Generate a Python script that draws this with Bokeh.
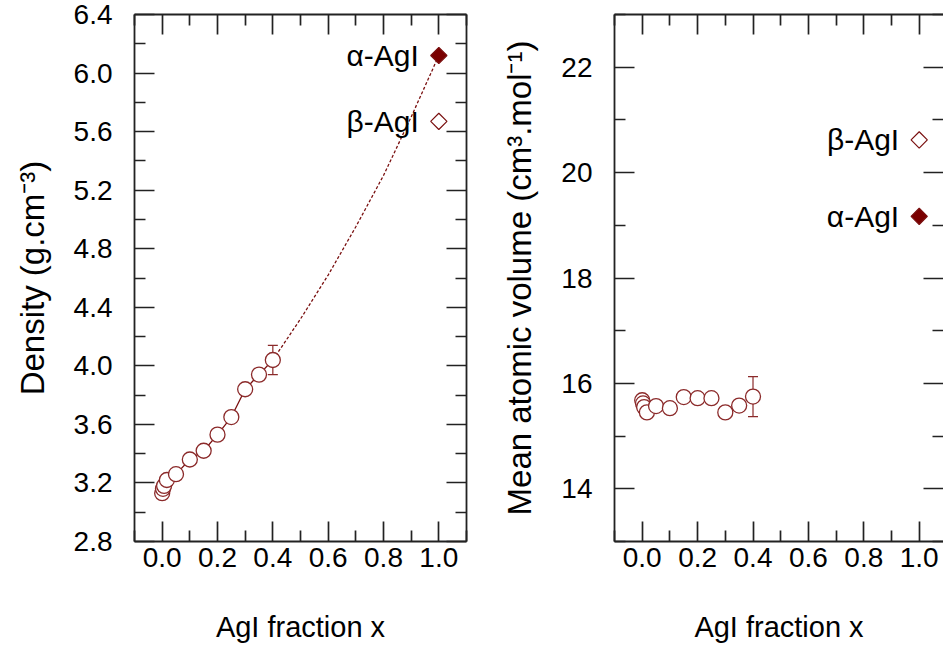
from bokeh.plotting import figure
from bokeh.layouts import row
from bokeh.models import (Range1d, LinearAxis, FixedTicker, Whisker, ColumnDataSource, TeeHead,
                          NumeralTickFormatter)
from bokeh.core.properties import value
from bokeh.embed import file_html
from bokeh.resources import INLINE

# ---------------- data ----------------
x_frac = [0.0, 0.003, 0.007, 0.017, 0.05, 0.10, 0.15, 0.20, 0.25, 0.30, 0.35, 0.40]
density = [3.13, 3.16, 3.18, 3.22, 3.26, 3.36, 3.42, 3.53, 3.65, 3.84, 3.94, 4.04]
volume = [15.68, 15.62, 15.55, 15.45, 15.57, 15.53, 15.74, 15.72, 15.72, 15.45, 15.58, 15.75]

err_x = [0.40]
density_err = [0.10]
volume_err = [0.38]

trend_x = [0.40, 0.50, 0.60, 0.70, 0.80, 0.90, 1.00]
trend_density = [4.04, 4.32, 4.62, 4.95, 5.30, 5.70, 6.12]

phase_names = ["α-AgI", "β-AgI"]
phase_x = [1.0, 1.0]
phase_density = [6.12, 5.67]
phase_volume = [19.17, 20.62]
phase_fill = ["#7a0000", "white"]

x_ticks = [0.0, 0.2, 0.4, 0.6, 0.8, 1.0]
x_minor = [-0.1, 0.1, 0.3, 0.5, 0.7, 0.9, 1.1]
density_ticks = [2.8, 3.2, 3.6, 4.0, 4.4, 4.8, 5.2, 5.6, 6.0, 6.4]
density_minor = [3.0, 3.4, 3.8, 4.2, 4.6, 5.0, 5.4, 5.8, 6.2]
volume_ticks = [14, 16, 18, 20, 22]
volume_minor = [13, 15, 17, 19, 21, 23]

x_title = "AgI fraction x"
density_title = "Density (g.cm⁻³)"
volume_title = "Mean atomic volume (cm³.mol⁻¹)"

FONT = "Liberation Sans"
DARK = "#7a1010"
EDGE = "#8b2a2a"
TICK_FS = "28px"
XLABEL_FS = "29px"
YLABEL_FS = "33px"
ANN_FS = "30px"


def style_axis(ax, ticks, minor, show_labels=True, fmt="0.0", standoff=8):
    ax.ticker = FixedTicker(ticks=ticks, minor_ticks=minor)
    ax.formatter = NumeralTickFormatter(format=fmt)
    ax.major_tick_in = 20
    ax.major_tick_out = 0
    ax.minor_tick_in = 11
    ax.minor_tick_out = 0
    ax.major_tick_line_width = 1.7
    ax.minor_tick_line_width = 1.7
    ax.major_tick_line_color = "#222222"
    ax.minor_tick_line_color = "#222222"
    ax.axis_line_width = 1.8
    ax.axis_line_color = "#222222"
    ax.major_label_text_font = FONT
    ax.major_label_text_color = "black"
    ax.major_label_standoff = standoff
    ax.axis_label_text_font = FONT
    ax.axis_label_text_font_style = "normal"
    ax.axis_label_text_color = "black"
    if show_labels:
        ax.major_label_text_font_size = TICK_FS
    else:
        ax.major_label_text_font_size = "0px"
        ax.major_label_text_color = None
        ax.major_label_standoff = 0


def make_fig(width, x_end, y_rng, yt, ym, yfmt, ytitle, right_line=True, min_right=14):
    p = figure(width=width, height=651, x_range=Range1d(-0.1, x_end), y_range=Range1d(*y_rng),
               output_backend="svg", toolbar_location=None,
               min_border_left=134, min_border_right=min_right, min_border_top=14, min_border_bottom=110)
    p.grid.visible = False
    p.outline_line_color = None
    p.background_fill_color = "white"
    p.border_fill_color = "white"
    style_axis(p.xaxis[0], x_ticks, x_minor, True, "0.0", 6)
    style_axis(p.yaxis[0], yt, ym, True, yfmt, 22)
    p.xaxis[0].axis_label = x_title
    p.xaxis[0].axis_label_text_font_size = XLABEL_FS
    p.xaxis[0].axis_label_standoff = 41
    p.yaxis[0].axis_label = ytitle
    p.yaxis[0].axis_label_text_font_size = YLABEL_FS
    p.yaxis[0].axis_label_standoff = 20
    top = LinearAxis()
    style_axis(top, x_ticks, x_minor, False)
    p.add_layout(top, "above")
    rgt = LinearAxis()
    style_axis(rgt, yt, ym, False)
    if not right_line:
        rgt.axis_line_color = None
    p.add_layout(rgt, "right")
    return p


def add_markers(p, yvals, yerr, phase_y):
    src = ColumnDataSource(dict(x=err_x, lo=[yvals[-1] - e for e in yerr],
                                hi=[yvals[-1] + e for e in yerr]))
    p.add_layout(Whisker(source=src, base="x", lower="lo", upper="hi", dimension="height",
                         line_color=EDGE, line_width=1.2,
                         upper_head=TeeHead(size=10, line_color=EDGE, line_width=1.2),
                         lower_head=TeeHead(size=10, line_color=EDGE, line_width=1.2)))
    p.scatter(x_frac, yvals, marker="circle", size=15, fill_color="white", line_color=EDGE, line_width=1.3)
    p.scatter(phase_x, phase_y, marker="square", angle=0.785398, size=11.5,
              fill_color=phase_fill, line_color=DARK, line_width=1.2)
    p.text(phase_x, phase_y, text=phase_names, x_offset=-20, text_align="right", text_baseline="middle",
           text_font=value(FONT), text_font_size=ANN_FS, text_color="black")


# ---------------- left: density ----------------
p1 = make_fig(480, 1.1, (2.8, 6.4), density_ticks, density_minor, "0.0", density_title)
p1.line(x_frac, density, line_color=DARK, line_width=1.3)
p1.line(trend_x, trend_density, line_color=DARK, line_width=1.3, line_dash="3 2")
add_markers(p1, density, density_err, phase_density)

# ---------------- right: mean atomic volume ----------------
p2 = make_fig(463, 1.0877, (13, 23), volume_ticks, volume_minor, "0", volume_title,
              right_line=False, min_right=0)
add_markers(p2, volume, volume_err, phase_volume)

layout = row(p1, p2, spacing=0)
open("out.html", "w").write(file_html(layout, INLINE))
